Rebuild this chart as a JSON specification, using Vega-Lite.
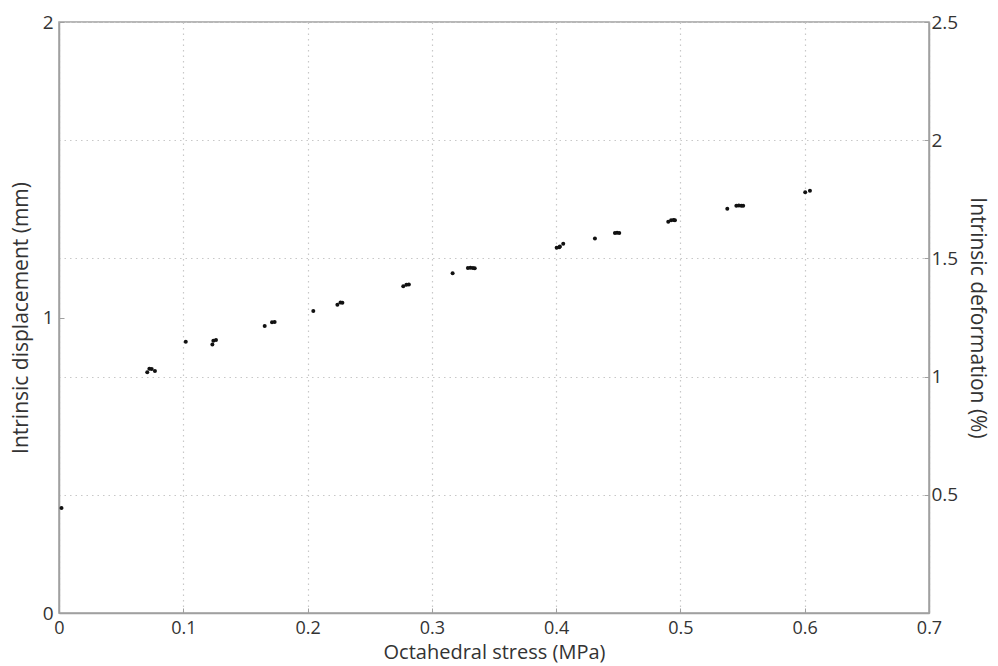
{
  "$schema": "https://vega.github.io/schema/vega-lite/v6.json",
  "autosize": "none",
  "width": 870,
  "height": 591,
  "padding": {"left": 59, "top": 22, "right": 69, "bottom": 53},
  "background": "white",
  "config": {
    "font": "Open Sans",
    "view": {"stroke": "#a0a0a0", "strokeWidth": 1.5},
    "axis": {
      "labelFont": "Open Sans",
      "titleFont": "Open Sans",
      "labelFontSize": 19,
      "titleFontSize": 21,
      "titleFontWeight": "normal",
      "labelColor": "#333333",
      "titleColor": "#333333",
      "domainColor": "#a0a0a0",
      "domainWidth": 1.5,
      "tickColor": "#a0a0a0",
      "gridColor": "#c8c8c8",
      "gridDash": [1.5, 4],
      "gridWidth": 1.2,
      "labelFlush": false,
      "format": "~g"
    }
  },
  "data": {
    "values": [
      {"stress": 0.002, "disp": 0.355},
      {"stress": 0.0710, "disp": 0.8146},
      {"stress": 0.0727, "disp": 0.8267},
      {"stress": 0.0746, "disp": 0.8257},
      {"stress": 0.0772, "disp": 0.8189},
      {"stress": 0.102, "disp": 0.918},
      {"stress": 0.1234, "disp": 0.909},
      {"stress": 0.1242, "disp": 0.9215},
      {"stress": 0.1263, "disp": 0.924},
      {"stress": 0.1655, "disp": 0.971},
      {"stress": 0.1714, "disp": 0.984},
      {"stress": 0.1735, "disp": 0.985},
      {"stress": 0.2046, "disp": 1.022},
      {"stress": 0.224, "disp": 1.043},
      {"stress": 0.2265, "disp": 1.051},
      {"stress": 0.228, "disp": 1.050},
      {"stress": 0.277, "disp": 1.106},
      {"stress": 0.2795, "disp": 1.111},
      {"stress": 0.2815, "disp": 1.112},
      {"stress": 0.3167, "disp": 1.1496},
      {"stress": 0.329, "disp": 1.1675},
      {"stress": 0.331, "disp": 1.168},
      {"stress": 0.333, "disp": 1.1675},
      {"stress": 0.3345, "disp": 1.167},
      {"stress": 0.4004, "disp": 1.236},
      {"stress": 0.4025, "disp": 1.238},
      {"stress": 0.403, "disp": 1.24},
      {"stress": 0.4057, "disp": 1.25},
      {"stress": 0.4312, "disp": 1.267},
      {"stress": 0.4473, "disp": 1.286},
      {"stress": 0.449, "disp": 1.287},
      {"stress": 0.4508, "disp": 1.286},
      {"stress": 0.4902, "disp": 1.324},
      {"stress": 0.4925, "disp": 1.329},
      {"stress": 0.4945, "disp": 1.33},
      {"stress": 0.4956, "disp": 1.329},
      {"stress": 0.5377, "disp": 1.368},
      {"stress": 0.545, "disp": 1.378},
      {"stress": 0.547, "disp": 1.379},
      {"stress": 0.549, "disp": 1.378},
      {"stress": 0.5505, "disp": 1.378},
      {"stress": 0.6004, "disp": 1.4236},
      {"stress": 0.6042, "disp": 1.429}
    ]
  },
  "layer": [
    {
      "mark": {"type": "circle", "size": 16, "color": "#111111", "opacity": 1},
      "encoding": {
        "x": {
          "field": "stress",
          "type": "quantitative",
          "scale": {"domain": [0, 0.7], "nice": false, "zero": false},
          "axis": {
            "title": "Octahedral stress (MPa)",
            "values": [0, 0.1, 0.2, 0.3, 0.4, 0.5, 0.6, 0.7],
            "grid": true,
            "tickSize": -5,
            "labelPadding": 11,
            "labelFontSize": 18,
            "titlePadding": 5,
            "titleFontSize": 20
          }
        },
        "y": {
          "field": "disp",
          "type": "quantitative",
          "scale": {"domain": [0, 2], "nice": false, "zero": false},
          "axis": {
            "title": "Intrinsic displacement (mm)",
            "orient": "left",
            "values": [0, 1, 2],
            "grid": false,
            "tickSize": -5,
            "labelPadding": 11,
            "titlePadding": 11
          }
        }
      }
    },
    {
      "mark": {"type": "circle", "size": 16, "opacity": 0},
      "encoding": {
        "x": {"field": "stress", "type": "quantitative", "scale": {"domain": [0, 0.7], "nice": false, "zero": false}},
        "y": {
          "field": "disp",
          "type": "quantitative",
          "scale": {"domain": [0, 2.5], "nice": false, "zero": false},
          "axis": {
            "title": "Intrinsic deformation (%)",
            "orient": "right",
            "values": [0.5, 1, 1.5, 2, 2.5],
            "gridValues": [0.5, 1, 1.5, 2],
            "grid": true,
            "tickSize": -5,
            "labelPadding": 7,
            "titlePadding": 9
          }
        }
      }
    }
  ],
  "resolve": {"scale": {"y": "independent"}}
}
